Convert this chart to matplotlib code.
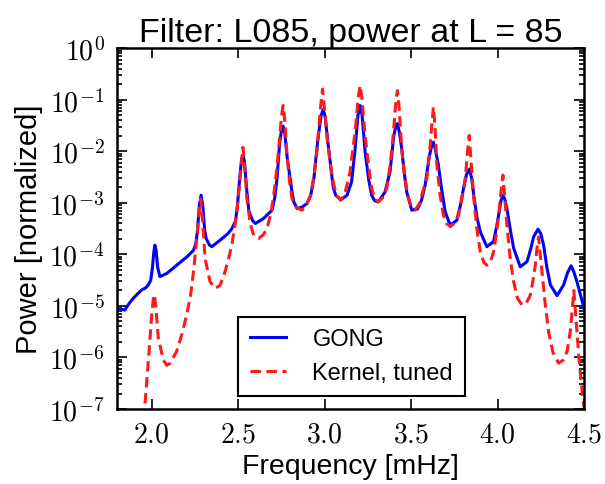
import numpy as np
import matplotlib
matplotlib.use("Agg")
import matplotlib.pyplot as plt
from matplotlib.ticker import FixedLocator, FuncFormatter, LogLocator

# GONG power spectrum (frequency in mHz, log10 of normalized power)
gong_freq = [1.800, 1.807, 1.845, 1.870, 1.894, 1.920, 1.942, 1.965, 1.981, 1.995,
             2.005, 2.013, 2.019, 2.026, 2.035, 2.048, 2.087, 2.145, 2.203, 2.242,
             2.255, 2.265, 2.276, 2.286, 2.296, 2.306, 2.315, 2.335, 2.348, 2.397,
             2.440, 2.464, 2.485, 2.495, 2.510, 2.520, 2.528, 2.537, 2.550, 2.562,
             2.571, 2.585, 2.600, 2.648, 2.696, 2.712, 2.725, 2.740, 2.752, 2.760,
             2.770, 2.783, 2.793, 2.810, 2.822, 2.841, 2.870, 2.899, 2.920, 2.938,
             2.960, 2.980, 2.992, 3.003, 3.020, 3.035, 3.050, 3.064, 3.093, 3.130,
             3.156, 3.175, 3.193, 3.205, 3.217, 3.234, 3.255, 3.272, 3.290, 3.311,
             3.349, 3.378, 3.400, 3.414, 3.421, 3.432, 3.446, 3.460, 3.475, 3.504,
             3.537, 3.560, 3.581, 3.605, 3.622, 3.629, 3.640, 3.658, 3.675, 3.697,
             3.726, 3.764, 3.785, 3.803, 3.820, 3.838, 3.850, 3.865, 3.882, 3.900,
             3.938, 3.977, 3.995, 4.006, 4.020, 4.031, 4.042, 4.054, 4.075, 4.093,
             4.131, 4.170, 4.195, 4.208, 4.234, 4.250, 4.266, 4.285, 4.305, 4.344,
             4.382, 4.405, 4.425, 4.440, 4.459, 4.480, 4.500]
gong_logp = [-5.05, -5.05, -5.08, -4.95, -4.85, -4.76, -4.69, -4.65, -4.59, -4.50,
             -4.25, -3.95, -3.82, -3.92, -4.25, -4.43, -4.37, -4.21, -4.05, -3.92,
             -3.80, -3.55, -3.05, -2.85, -3.05, -3.50, -3.69, -3.82, -3.85, -3.72,
             -3.60, -3.50, -3.35, -3.10, -2.50, -2.15, -2.08, -2.20, -2.75, -3.15,
             -3.24, -3.35, -3.40, -3.30, -3.14, -2.90, -2.53, -1.85, -1.55, -1.51,
             -1.65, -2.10, -2.34, -2.75, -2.98, -3.11, -3.08, -3.01, -2.85, -2.53,
             -1.80, -1.30, -1.19, -1.32, -1.85, -2.27, -2.70, -2.85, -2.94, -2.85,
             -2.59, -2.00, -1.30, -1.11, -1.30, -2.00, -2.55, -2.85, -2.96, -2.98,
             -2.79, -2.40, -1.70, -1.48, -1.46, -1.62, -1.95, -2.40, -2.79, -3.14,
             -3.12, -2.95, -2.66, -2.10, -1.85, -1.82, -1.95, -2.27, -2.70, -3.17,
             -3.43, -3.34, -3.05, -2.72, -2.45, -2.34, -2.52, -2.92, -3.30, -3.56,
             -3.85, -3.75, -3.45, -3.24, -2.95, -2.85, -2.93, -3.11, -3.55, -3.88,
             -4.24, -4.14, -3.85, -3.66, -3.51, -3.60, -3.82, -4.25, -4.59, -4.80,
             -4.59, -4.35, -4.22, -4.33, -4.53, -4.80, -5.05]

# tuned kernel model
kern_freq = [1.955, 1.985, 2.000, 2.010, 2.016, 2.024, 2.039, 2.068, 2.087, 2.105,
             2.145, 2.175, 2.203, 2.225, 2.242, 2.261, 2.275, 2.284, 2.294, 2.309,
             2.338, 2.368, 2.395, 2.416, 2.440, 2.464, 2.493, 2.512, 2.528, 2.540,
             2.551, 2.570, 2.590, 2.619, 2.645, 2.667, 2.690, 2.706, 2.720, 2.735,
             2.750, 2.760, 2.770, 2.783, 2.798, 2.812, 2.840, 2.870, 2.895, 2.919,
             2.940, 2.957, 2.975, 2.988, 3.000, 3.015, 3.035, 3.054, 3.070, 3.093,
             3.120, 3.147, 3.176, 3.195, 3.205, 3.215, 3.234, 3.255, 3.272, 3.290,
             3.311, 3.335, 3.359, 3.380, 3.398, 3.413, 3.421, 3.430, 3.446, 3.465,
             3.485, 3.505, 3.523, 3.550, 3.570, 3.591, 3.610, 3.622, 3.629, 3.638,
             3.649, 3.668, 3.687, 3.705, 3.726, 3.750, 3.774, 3.795, 3.813, 3.828,
             3.836, 3.845, 3.861, 3.880, 3.900, 3.920, 3.938, 3.958, 3.977, 3.993,
             4.006, 4.022, 4.031, 4.040, 4.054, 4.072, 4.093, 4.115, 4.141, 4.165,
             4.189, 4.205, 4.218, 4.230, 4.237, 4.245, 4.257, 4.275, 4.295, 4.320,
             4.353, 4.380, 4.402, 4.420, 4.431, 4.441, 4.452, 4.470, 4.490, 4.505]
kern_logp = [-7.20, -5.90, -5.20, -4.85, -4.78, -5.00, -5.63, -6.05, -6.15, -6.12,
             -5.88, -5.55, -5.17, -4.80, -4.34, -3.69, -3.15, -2.92, -3.30, -4.08,
             -4.53, -4.66, -4.60, -4.43, -4.15, -3.82, -3.17, -2.50, -1.92, -2.40,
             -2.92, -3.40, -3.63, -3.69, -3.62, -3.50, -3.20, -2.85, -2.45, -1.95,
             -1.35, -1.11, -1.40, -2.08, -2.60, -2.92, -3.10, -3.14, -3.05, -2.85,
             -2.45, -1.95, -1.20, -0.79, -1.20, -1.75, -2.30, -2.66, -2.85, -2.95,
             -2.78, -2.40, -1.63, -0.95, -0.72, -0.95, -1.69, -2.30, -2.72, -2.92,
             -2.98, -2.90, -2.72, -2.25, -1.63, -1.00, -0.82, -1.10, -1.95, -2.55,
             -2.92, -3.10, -3.14, -3.00, -2.75, -2.53, -1.90, -1.40, -1.14, -1.50,
             -2.27, -2.85, -3.24, -3.40, -3.46, -3.40, -3.24, -2.90, -2.53, -1.95,
             -1.69, -2.10, -2.85, -3.50, -3.95, -4.15, -4.21, -4.15, -3.95, -3.60,
             -3.24, -2.70, -2.46, -2.85, -3.43, -4.05, -4.53, -4.85, -4.98, -4.95,
             -4.79, -4.50, -4.21, -3.80, -3.66, -3.95, -4.34, -4.95, -5.50, -5.90,
             -6.11, -6.05, -5.88, -5.50, -5.10, -4.70, -5.20, -6.00, -6.70, -7.10]

xticks = [2.0, 2.5, 3.0, 3.5, 4.0, 4.5]

plt.rcParams['font.family'] = ['Liberation Sans', 'DejaVu Sans']
plt.rcParams['mathtext.fontset'] = 'cm'
plt.rcParams['lines.scale_dashes'] = False

fig = plt.figure(figsize=(6.05, 4.85), dpi=100)
ax = fig.add_axes([0.1934, 0.1546, 0.772, 0.7437])

ax.plot(gong_freq, 10 ** np.array(gong_logp), color='#0000ff', lw=2.2, label='GONG')
ax.plot(kern_freq, 10 ** np.array(kern_logp), color='#ff1a1a', lw=2.2,
        dashes=(7.5, 4), label='Kernel, tuned')

ax.set_yscale('log')
ax.set_xlim(1.8, 4.5)
ax.set_ylim(1e-7, 1e0)

ax.xaxis.set_major_locator(FixedLocator(xticks))
ax.xaxis.set_major_formatter(FuncFormatter(lambda v, p: r'$%.1f$' % v))
ax.yaxis.set_major_locator(LogLocator(base=10, numticks=20))
ax.yaxis.set_minor_locator(LogLocator(base=10, subs=np.arange(2, 10), numticks=20))
ax.yaxis.set_major_formatter(FuncFormatter(lambda v, p: r'$10^{%d}$' % round(np.log10(v))))

ax.tick_params(which='both', direction='in', top=True, right=True, width=1.2)
ax.tick_params(which='major', length=7, labelsize=20, pad=9)
ax.tick_params(which='minor', length=3.5)
for s in ax.spines.values():
    s.set_linewidth(1.8)

ax.set_title('Filter: L085, power at L = 85', fontsize=24.5, pad=5)
ax.set_xlabel('Frequency [mHz]', fontsize=20.5, labelpad=4)
ax.set_ylabel('Power [normalized]', fontsize=21, labelpad=4)

leg = ax.legend(loc='lower center', bbox_to_anchor=(0.502, 0.036), borderaxespad=0,
                fontsize=17, fancybox=False, framealpha=1, edgecolor='black',
                handlelength=1.55, handletextpad=1.1, borderpad=0.5, labelspacing=0.5)
leg.get_frame().set_linewidth(1.5)

fig.savefig('out.png', dpi=100)
